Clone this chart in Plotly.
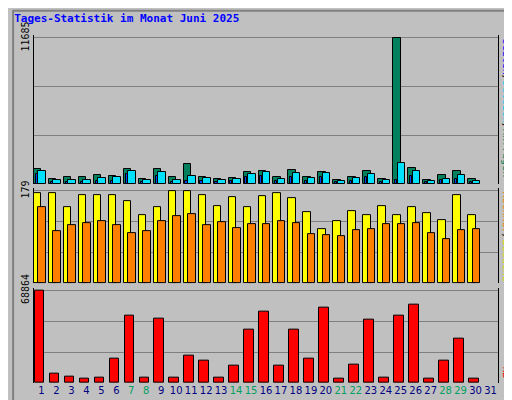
import plotly.graph_objects as go

days = list(range(1, 32))
hits = [1220,424,583,583,742,663,1220,424,1220,583,1617,583,424,504,980,1060,583,1140,583,980,345,583,1060,424,11685,1300,345,742,1060,424,None]
files = [1060,345,345,345,504,583,1060,345,980,345,663,504,345,424,822,980,424,900,504,900,265,504,822,345,1700,1060,265,424,742,265,None]
pages = [795,210,210,210,260,300,795,210,660,210,300,260,210,230,580,660,230,580,260,610,150,260,580,210,370,660,150,370,420,150,None]
visits = [174,174,147,171,171,171,159,133,147,179,179,171,149,167,147,169,175,165,138,105,121,140,133,150,133,147,136,122,171,133,None]
sites = [147,101,113,117,121,113,97,101,121,131,135,113,119,107,115,115,121,117,95,93,91,103,105,115,115,117,97,86,103,105,None]
kb = [68864,6700,4500,3000,3700,18000,50000,3700,48000,3700,20000,17000,3700,12700,40000,53000,12700,40000,18000,56000,3000,13500,47000,3700,50000,58000,3000,16500,33000,3000,None]
weekend = [7,8,14,15,21,22,28,29]

fig = go.Figure()
def bar(y, color, off, w, ax):
    fig.add_trace(go.Bar(x=days, y=y, marker=dict(color=color, line=dict(color="black", width=1)),
                         offset=off, width=w, xaxis="x", yaxis=ax, showlegend=False))

bar(hits, "#00805C", -0.5, 0.5, "y")
bar(files, "#00E0FF", -0.2, 0.5, "y")
bar(pages, "#0040FF", -0.38, 0.14, "y")
bar(visits, "#FFFF00", -0.5, 0.5, "y2")
bar(sites, "#FF8000", -0.2, 0.5, "y2")
bar(kb, "#FF0000", -0.45, 0.65, "y3")

ticktext = [f'<span style="color:{"#00A060" if d in weekend else "#000080"}">{d}</span>' for d in days]
ax_common = dict(showline=True, linecolor="black", mirror=True, gridcolor="#808080",
                 zeroline=False, tickangle=-90, tickfont=dict(family="DejaVu Sans Mono", size=10, color="black"),
                 ticks="", fixedrange=True)
fig.update_layout(
    width=512, height=400, paper_bgcolor="#C0C0C0", plot_bgcolor="#C0C0C0",
    margin=dict(l=24, r=22, t=27, b=23), barmode="overlay", bargap=0,
    font=dict(family="DejaVu Sans Mono"),
    xaxis=dict(range=[0.5, 31.5], tickvals=days, ticktext=ticktext, anchor="y3", tickangle=0,
               showline=False, showgrid=False, ticks="", tickfont=dict(size=10, family="DejaVu Sans")),
    yaxis=dict(domain=[0.571, 1], range=[0, 11685*1.02], tickvals=[3895, 7790, 11685],
               ticktext=["", "", "11685"], **ax_common),
    yaxis2=dict(domain=[0.286, 0.56], range=[0, 179*1.03], tickvals=[60, 119, 179],
                ticktext=["", "", "179"], **ax_common),
    yaxis3=dict(domain=[0, 0.274], range=[0, 68864*1.03], tickvals=[22955, 45910, 68864],
                ticktext=["", "", "68864"], **ax_common),
    title=dict(text="<b>Tages-Statistik im Monat Juni 2025</b>", x=0.012, y=0.985, xanchor="left",
               yanchor="top", font=dict(color="#0000FF", size=11, family="DejaVu Sans Mono")),
)
sep = '<span style="color:black">/</span>'
anns = [
    (0.79, f'<span style="color:#0000FF">Seiten</span>{sep}<span style="color:#00C8E8">Dateien</span>{sep}<span style="color:#00805C">Anfragen</span>'),
    (0.42, f'<span style="color:#FF8000">Rechner</span>{sep}<span style="color:#E0E000">Besuche</span>'),
    (0.03, '<span style="color:#FF0000">kB</span>'),
]
for y, t in anns:
    fig.add_annotation(x=1.002, y=y, xref="paper", yref="paper", text=t, textangle=90,
                       showarrow=False, xanchor="left", yanchor="middle",
                       font=dict(size=10, family="DejaVu Sans Mono"))
fig.add_shape(type="rect", xref="paper", yref="paper", x0=-0.045, x1=1.04, y0=-0.06, y1=1.07,
              line=dict(color="#808080", width=2))
fig.write_html("out.html")
